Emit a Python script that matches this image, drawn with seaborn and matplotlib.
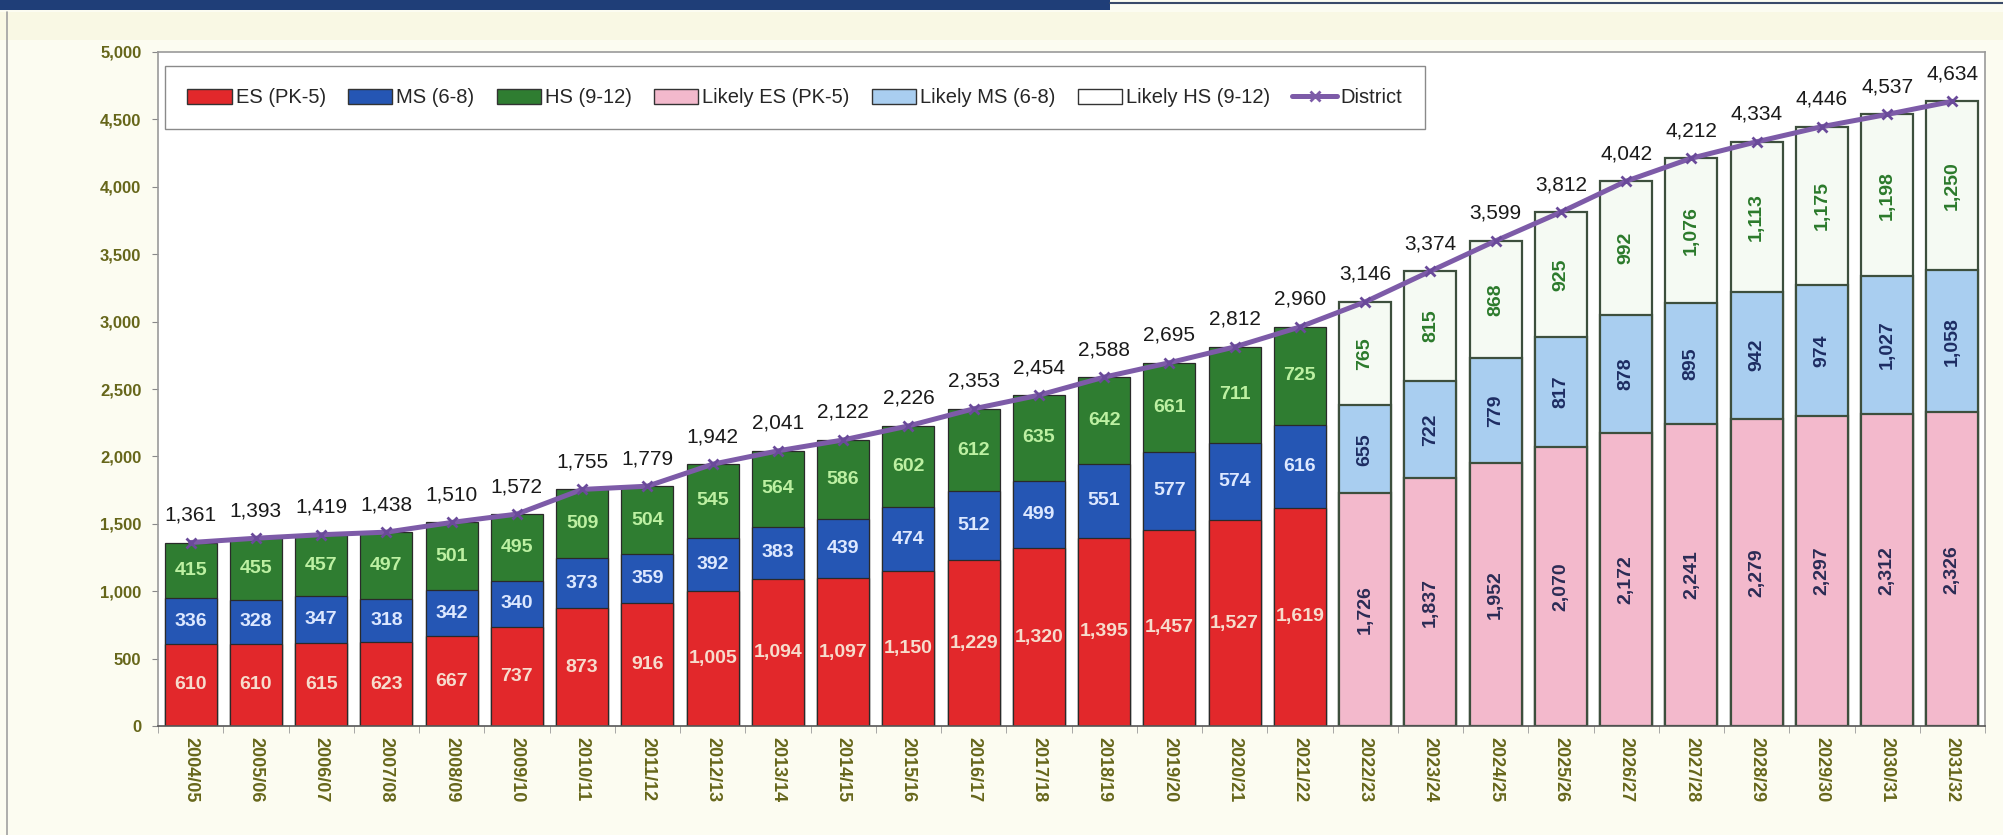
# school enrollment: historical + likely projection, stacked by level, with district total line
import numpy as np
import pandas as pd
import matplotlib
matplotlib.use("Agg")
import matplotlib.pyplot as plt
import seaborn as sns
from matplotlib.patches import Patch, Rectangle
from matplotlib.lines import Line2D
from matplotlib.ticker import FuncFormatter, MultipleLocator, FixedLocator

years = ["2004/05", "2005/06", "2006/07", "2007/08", "2008/09", "2009/10", "2010/11",
         "2011/12", "2012/13", "2013/14", "2014/15", "2015/16", "2016/17", "2017/18",
         "2018/19", "2019/20", "2020/21", "2021/22", "2022/23", "2023/24", "2024/25",
         "2025/26", "2026/27", "2027/28", "2028/29", "2029/30", "2030/31", "2031/32"]

es_hist = [610, 610, 615, 623, 667, 737, 873, 916, 1005, 1094, 1097, 1150, 1229, 1320, 1395, 1457, 1527, 1619]
ms_hist = [336, 328, 347, 318, 342, 340, 373, 359, 392, 383, 439, 474, 512, 499, 551, 577, 574, 616]
hs_hist = [415, 455, 457, 497, 501, 495, 509, 504, 545, 564, 586, 602, 612, 635, 642, 661, 711, 725]

es_likely = [1726, 1837, 1952, 2070, 2172, 2241, 2279, 2297, 2312, 2326]
ms_likely = [655, 722, 779, 817, 878, 895, 942, 974, 1027, 1058]
hs_likely = [765, 815, 868, 925, 992, 1076, 1113, 1175, 1198, 1250]

district = [1361, 1393, 1419, 1438, 1510, 1572, 1755, 1779, 1942, 2041, 2122, 2226, 2353, 2454,
            2588, 2695, 2812, 2960, 3146, 3374, 3599, 3812, 4042, 4212, 4334, 4446, 4537, 4634]

legend_labels = ["ES (PK-5)", "MS (6-8)", "HS (9-12)", "Likely ES (PK-5)",
                 "Likely MS (6-8)", "Likely HS (9-12)", "District"]

C_ES, C_MS, C_HS = "#e2282b", "#2556b4", "#2f7d31"
C_LES, C_LMS, C_LHS = "#f3b9cc", "#a9cef0", "#f5faf3"
C_LINE = "#7d5ba8"
TICK_COL = "#66661a"

n_hist = len(es_hist)
df = pd.DataFrame({
    "year": years,
    "es": es_hist + es_likely,
    "ms": ms_hist + ms_likely,
    "hs": hs_hist + hs_likely,
    "period": ["hist"] * n_hist + ["likely"] * len(es_likely),
})
df["top2"] = df["es"] + df["ms"]
df["top3"] = df["top2"] + df["hs"]

sns.set_style("white")
plt.rcParams["font.family"] = ["Liberation Sans", "DejaVu Sans"]

fig = plt.figure(figsize=(20.03, 8.35), dpi=100, facecolor="#fcfcf1")
ax = fig.add_axes([158 / 2003, 1 - 726 / 835, 1827 / 2003, 674 / 835])
ax.set_facecolor("white")

# stacked bars drawn as cumulative layers, tallest first
hist = df[df["period"] == "hist"]
likely = df[df["period"] == "likely"]
for col, ch, cl in [("top3", C_HS, C_LHS), ("top2", C_MS, C_LMS), ("es", C_ES, C_LES)]:
    sns.barplot(data=hist, x="year", y=col, order=years, color=ch, saturation=1,
                width=0.8, edgecolor="#2a2a2a", linewidth=0.9, errorbar=None, ax=ax)
    sns.barplot(data=likely, x="year", y=col, order=years, color=cl, saturation=1,
                width=0.8, edgecolor="#3d4f3d", linewidth=1.6, errorbar=None, ax=ax)

sns.lineplot(x=np.arange(len(years)), y=district, color=C_LINE, linewidth=3.6,
             marker="x", markersize=7, markeredgewidth=2, markeredgecolor="#6a4a9a", ax=ax, zorder=5)

# value labels inside the segments
for i, r in df.iterrows():
    if r["period"] == "hist":
        kw = dict(ha="center", va="center", fontsize=14, fontweight="bold", zorder=6)
        ax.text(i, r["es"] / 2, f"{r['es']:,}", color="#f7dccd", **kw)
        ax.text(i, r["es"] + r["ms"] / 2, f"{r['ms']:,}", color="#dde8ff", **kw)
        ax.text(i, r["top2"] + r["hs"] / 2, f"{r['hs']:,}", color="#bdf0a2", **kw)
    else:
        kw = dict(ha="center", va="center", fontsize=14, fontweight="bold", rotation=90, zorder=6)
        ax.text(i, r["es"] / 2, f"{r['es']:,}", color="#2b2b55", **kw)
        ax.text(i, r["es"] + r["ms"] / 2, f"{r['ms']:,}", color="#1d2c62", **kw)
        ax.text(i, r["top2"] + r["hs"] / 2, f"{r['hs']:,}", color="#2b7a2b", **kw)

for i, t in enumerate(district):
    ax.annotate(f"{t:,}", (i, t), xytext=(0, 13), textcoords="offset points",
                ha="center", va="bottom", fontsize=15, color="#1a1a1a", zorder=7)

ax.set_xlim(-0.5, len(years) - 0.5)
ax.set_ylim(0, 5000)
ax.yaxis.set_major_locator(MultipleLocator(500))
ax.yaxis.set_major_formatter(FuncFormatter(lambda v, p: f"{int(v):,}"))
ax.set_xlabel("")
ax.set_ylabel("")
ax.tick_params(axis="y", labelsize=12, labelcolor=TICK_COL, length=4, color="#888888",
               direction="out", left=True, pad=8)
ax.tick_params(axis="x", labelsize=13, labelcolor=TICK_COL, rotation=-90, length=0, pad=8)
for lab in ax.get_xticklabels() + ax.get_yticklabels():
    lab.set_fontweight("bold")
ax.xaxis.set_minor_locator(FixedLocator(np.arange(len(years) + 1) - 0.5))
ax.tick_params(axis="x", which="minor", length=5, color="#999999", bottom=True)
for s in ax.spines.values():
    s.set_color("#9a9a9a")
    s.set_linewidth(1.2)
ax.spines["bottom"].set_color("#555555")

handles = [Patch(facecolor=C_ES, edgecolor="#333333"), Patch(facecolor=C_MS, edgecolor="#333333"),
           Patch(facecolor=C_HS, edgecolor="#333333"), Patch(facecolor=C_LES, edgecolor="#333333"),
           Patch(facecolor=C_LMS, edgecolor="#333333"), Patch(facecolor="white", edgecolor="#333333"),
           Line2D([], [], color=C_LINE, linewidth=3.6, marker="x", markersize=7, markeredgewidth=2)]
leg = ax.legend(handles, legend_labels, ncol=7, loc="upper left", bbox_to_anchor=(0.004, 0.979),
                fontsize=14.5, frameon=True, fancybox=False, edgecolor="#8a8a8a", framealpha=1,
                handlelength=2.2, handleheight=0.8, handletextpad=0.2, columnspacing=1.1,
                borderpad=1.1, borderaxespad=0)
leg.get_frame().set_linewidth(1.0)
leg.set_zorder(8)

# page decoration of the scanned report: banner strip and outer frame
fig.patches.append(Rectangle((0, 1 - 10 / 835), 1110 / 2003, 10 / 835, transform=fig.transFigure,
                             facecolor="#1f3e78", edgecolor="none"))
fig.lines.append(Line2D([1110 / 2003, 1], [1 - 3 / 835, 1 - 3 / 835], transform=fig.transFigure,
                        color="#3a4a6a", linewidth=1.5))
fig.patches.append(Rectangle((0, 1 - 40 / 835), 1, 28 / 835, transform=fig.transFigure,
                             facecolor="#f7f5d8", edgecolor="none", alpha=0.5, zorder=-1))
fig.lines.append(Line2D([7 / 2003, 7 / 2003], [0, 1 - 12 / 835], transform=fig.transFigure,
                        color="#a0a0a0", linewidth=1.2))

fig.savefig("out.png", dpi=100, facecolor=fig.get_facecolor())
